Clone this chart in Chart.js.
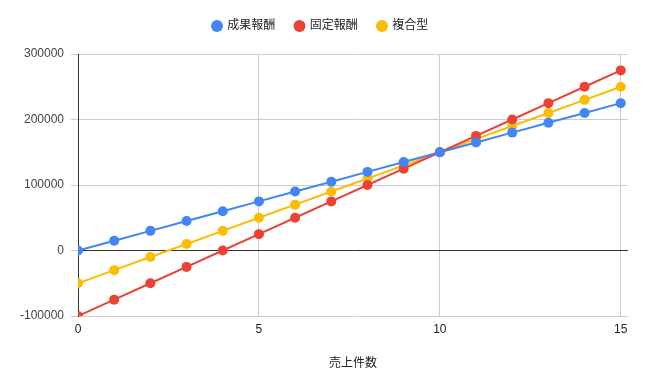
<!DOCTYPE html>
<html>
<head>
<meta charset="utf-8">
<script src="https://cdn.jsdelivr.net/npm/chart.js@4"></script>
<style>
  body { margin: 0; background: #fff; }
  #wrap { width: 647px; height: 388px; position: relative; }
</style>
</head>
<body>
<div id="wrap"><canvas id="salesChart"></canvas></div>
<script>
// chart data
const salesCount = [0, 1, 2, 3, 4, 5, 6, 7, 8, 9, 10, 11, 12, 13, 14, 15];
const performancePay = [0, 15000, 30000, 45000, 60000, 75000, 90000, 105000, 120000, 135000, 150000, 165000, 180000, 195000, 210000, 225000];
const fixedPay = [-100000, -75000, -50000, -25000, 0, 25000, 50000, 75000, 100000, 125000, 150000, 175000, 200000, 225000, 250000, 275000];
const hybridPay = [-50000, -30000, -10000, 10000, 30000, 50000, 70000, 90000, 110000, 130000, 150000, 170000, 190000, 210000, 230000, 250000];
const seriesNames = ['成果報酬', '固定報酬', '複合型'];
const xTicks = [0, 5, 10, 15];
const yTicks = [-100000, 0, 100000, 200000, 300000];

const fontFamily = "'Liberation Sans', Arial, 'Noto Sans CJK JP', sans-serif";
const padLeft = 13;
const padBottom = 13;

function toPoints(values) {
    return values.map((v, i) => ({ x: salesCount[i], y: v }));
}

function makeSeries(label, values, color) {
    return {
        label: label,
        data: toPoints(values),
        borderColor: color,
        backgroundColor: color,
        borderWidth: 2,
        pointRadius: 5,
        pointHoverRadius: 5,
        pointBorderWidth: 0,
        tension: 0
    };
}

// extra space under the legend
const legendGap = {
    id: 'legendGap',
    afterInit(chart) {
        const legend = chart.legend;
        const fit = legend.fit;
        legend.fit = function () {
            fit.call(this);
            this.height += 12;
        };
    }
};

const ctx = document.getElementById('salesChart').getContext('2d');
const chart = new Chart(ctx, {
    type: 'line',
    data: {
        datasets: [
            makeSeries(seriesNames[0], performancePay, '#4285F4'),
            makeSeries(seriesNames[1], fixedPay, '#EA4335'),
            makeSeries(seriesNames[2], hybridPay, '#FBBC04')
        ]
    },
    plugins: [legendGap],
    options: {
        responsive: true,
        maintainAspectRatio: false,
        animation: false,
        layout: { padding: { left: padLeft, right: 19, top: 0, bottom: padBottom } },
        plugins: {
            legend: {
                position: 'top',
                labels: {
                    usePointStyle: true,
                    pointStyle: 'circle',
                    boxWidth: 8.5,
                    boxHeight: 8.5,
                    padding: 20,
                    color: '#222',
                    font: { family: fontFamily, size: 12 }
                }
            },
            tooltip: { enabled: false }
        },
        scales: {
            x: {
                type: 'linear',
                min: 0,
                max: 15.2,
                afterBuildTicks: function (scale) {
                    scale.ticks = xTicks.map(v => ({ value: v }));
                },
                afterFit: function (scale) {
                    scale.height = 388 - 316 - padBottom;
                },
                grid: {
                    drawTicks: false,
                    color: c => (c.tick && c.tick.value === 0) ? '#333' : '#ccc',
                    lineWidth: 1
                },
                border: { display: false },
                ticks: {
                    padding: 6,
                    color: '#222',
                    font: { family: fontFamily, size: 12 }
                },
                title: {
                    display: true,
                    text: '売上件数',
                    color: '#222',
                    padding: { top: 4, bottom: 4 },
                    font: { family: fontFamily, size: 12 }
                }
            },
            y: {
                min: -100000,
                max: 300000,
                afterBuildTicks: function (scale) {
                    scale.ticks = yTicks.map(v => ({ value: v }));
                },
                afterFit: function (scale) {
                    scale.width = 78 - padLeft;
                },
                grid: {
                    tickLength: 7,
                    color: c => (c.tick && c.tick.value === 0) ? '#333' : '#ccc',
                    tickColor: '#ccc',
                    lineWidth: 1
                },
                border: { display: true, color: '#333' },
                ticks: {
                    padding: 7,
                    color: '#444',
                    font: { family: fontFamily, size: 12 },
                    callback: v => String(v)
                }
            }
        }
    }
});
</script>
</body>
</html>
